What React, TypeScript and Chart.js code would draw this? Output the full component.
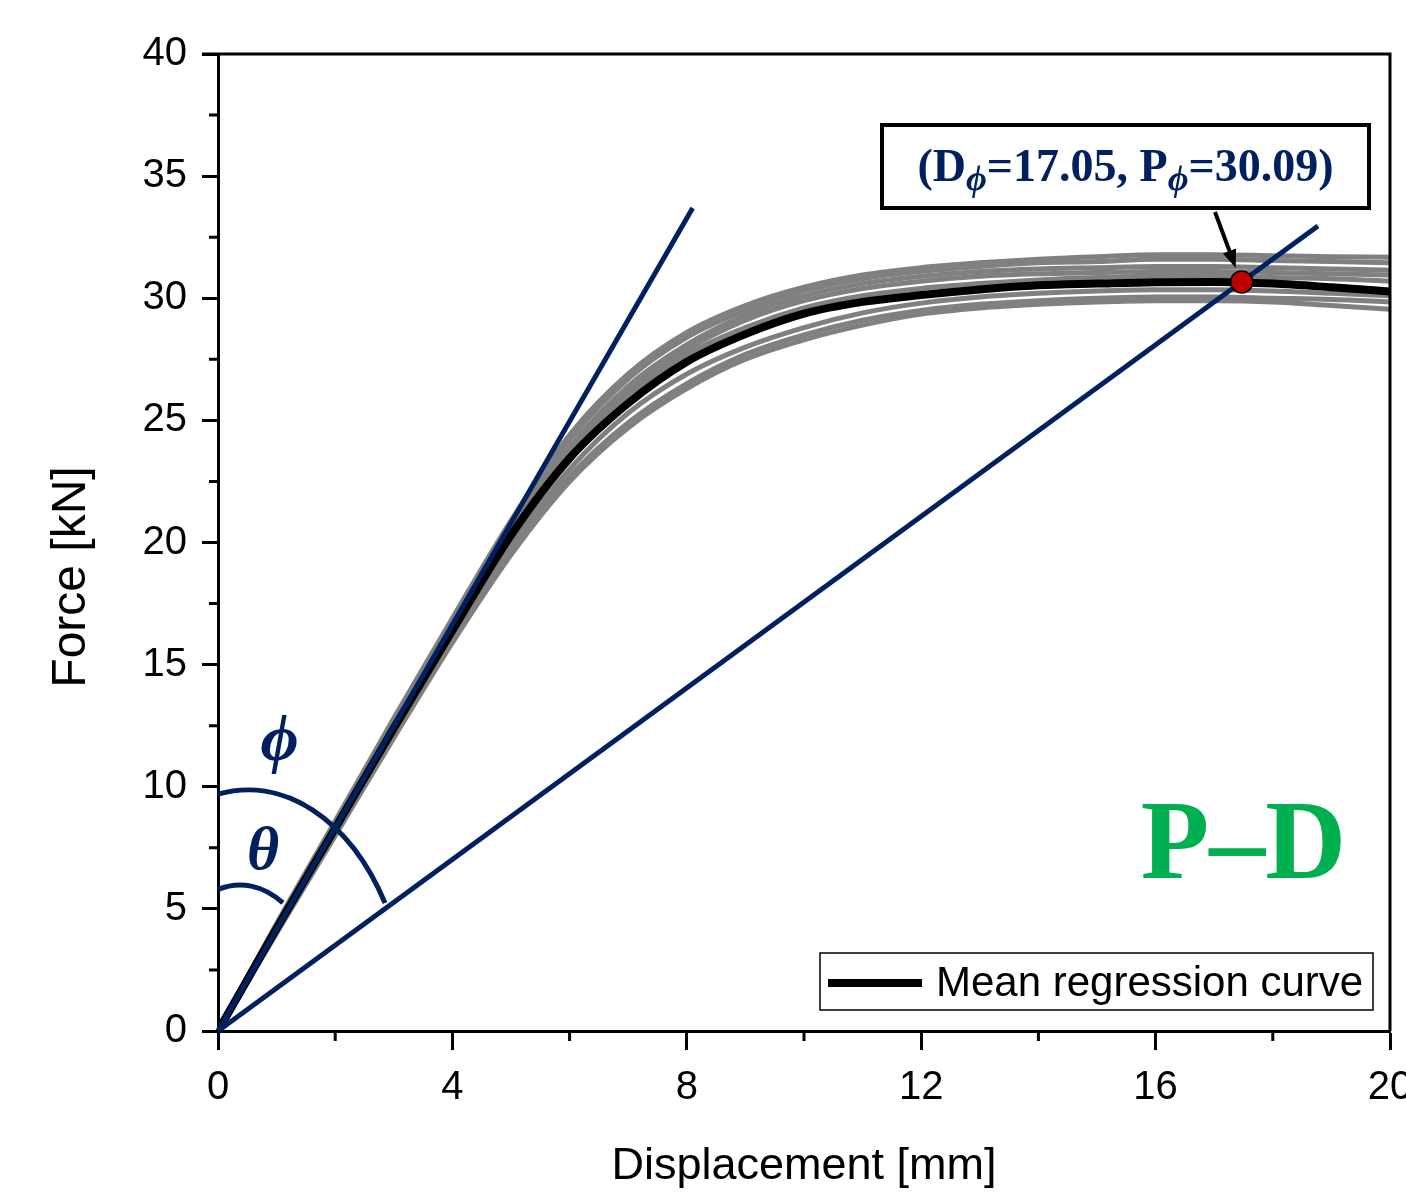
import React, { useEffect, useRef } from 'react';
import { Chart, registerables } from 'chart.js';

Chart.register(...registerables);

// ---------- data ----------
const xGrid = [0, 0.5, 1, 2, 3, 4, 5, 6, 7, 8, 9, 10, 11, 12, 13, 14, 15, 16, 17, 18, 19, 20];

const meanCurve = [0, 2.1, 4.2, 8.3, 12.4, 16.4, 20.3, 23.45, 25.7, 27.4, 28.53, 29.37, 29.85, 30.13, 30.36, 30.53, 30.6, 30.66, 30.67, 30.6, 30.45, 30.28];

const gray1 = [0, 2.2, 4.4, 8.6, 12.8, 16.9, 20.9, 24.4, 26.9, 28.6, 29.7, 30.45, 30.95, 31.25, 31.45, 31.6, 31.7, 31.78, 31.78, 31.74, 31.7, 31.68];
const gray2 = [0, 2.2, 4.3, 8.5, 12.7, 16.8, 20.8, 24.2, 26.7, 28.4, 29.5, 30.3, 30.8, 31.1, 31.3, 31.45, 31.5, 31.6, 31.6, 31.55, 31.5, 31.45];
const gray3 = [0, 2.1, 4.3, 8.4, 12.6, 16.7, 20.6, 23.9, 26.4, 28.1, 29.3, 30.1, 30.6, 30.9, 31.1, 31.2, 31.25, 31.3, 31.3, 31.25, 31.2, 31.15];
const gray4 = [0, 2.1, 4.2, 8.4, 12.5, 16.6, 20.5, 23.8, 26.2, 27.9, 29.1, 29.9, 30.4, 30.7, 30.9, 31.0, 31.05, 31.1, 31.1, 31.05, 31.0, 30.95];
const gray5 = [0, 2.1, 4.2, 8.3, 12.4, 16.5, 20.4, 23.6, 26.0, 27.7, 28.8, 29.6, 30.1, 30.4, 30.6, 30.75, 30.85, 30.9, 30.9, 30.85, 30.8, 30.7];
const gray6 = [0, 2.1, 4.1, 8.2, 12.3, 16.2, 19.9, 23.0, 25.3, 26.9, 28.0, 28.8, 29.4, 29.8, 30.05, 30.2, 30.3, 30.35, 30.35, 30.3, 30.2, 30.1];
const gray7 = [0, 2.0, 4.1, 8.1, 12.2, 16.1, 19.7, 22.7, 24.9, 26.5, 27.7, 28.5, 29.1, 29.5, 29.75, 29.9, 30.0, 30.05, 30.05, 30.0, 29.95, 29.85];
const gray8 = [0, 2.0, 4.0, 8.0, 12.0, 15.9, 19.5, 22.5, 24.7, 26.3, 27.5, 28.3, 28.9, 29.35, 29.6, 29.75, 29.85, 29.9, 29.9, 29.85, 29.7, 29.55];
const grayCurves = [gray1, gray2, gray3, gray4, gray5, gray6, gray7, gray8];

const tangentX = [0, 8.1];
const tangentY = [0, 33.7];
const secantX = [0, 18.77];
const secantY = [0, 32.96];
const markX = [17.47];
const markY = [30.67];

const xMajorTicks = [0, 4, 8, 12, 16, 20];
const yMajorTicks = [0, 5, 10, 15, 20, 25, 30, 35, 40];

const xTitle = 'Displacement [mm]';
const yTitle = 'Force [kN]';
const legendLabel = 'Mean regression curve';
const panelLabel = 'P\u2013D';
const calloutParts: [string, boolean][] = [
  ['(D', false],
  ['\u03D5', true],
  ['=17.05, P', false],
  ['\u03D5', true],
  ['=30.09)', false],
];

// ---------- style ----------
const NAVY = '#002060';
const GREEN = '#00b050';
const SANS = '"Liberation Sans", Arial, sans-serif';
const SERIF = '"Liberation Serif", "Times New Roman", serif';

const pts = (xs: number[], ys: number[]) => xs.map((x, i) => ({ x, y: ys[i] }));

const decorPlugin = {
  id: 'decor',
  afterDraw(chart: any) {
    const { ctx, chartArea: a, scales } = chart;
    const x = scales.x;
    const y = scales.y;
    ctx.save();

    // frame top & right
    ctx.strokeStyle = '#000';
    ctx.lineWidth = 3;
    ctx.beginPath();
    ctx.moveTo(a.left - 16, a.top);
    ctx.lineTo(a.right, a.top);
    ctx.lineTo(a.right, a.bottom);
    ctx.stroke();

    // minor ticks
    ctx.beginPath();
    y.ticks.forEach((t: any) => {
      if (!yMajorTicks.includes(t.value)) {
        const py = y.getPixelForValue(t.value);
        ctx.moveTo(a.left, py);
        ctx.lineTo(a.left - 9, py);
      }
    });
    x.ticks.forEach((t: any) => {
      if (!xMajorTicks.includes(t.value)) {
        const px = x.getPixelForValue(t.value);
        ctx.moveTo(px, a.bottom);
        ctx.lineTo(px, a.bottom + 10);
      }
    });
    ctx.stroke();

    // angle arcs
    const cy = y.getPixelForValue(0);
    ctx.strokeStyle = NAVY;
    ctx.lineWidth = 5;
    {
      const cx = x.getPixelForValue(0.512);
      const rx = x.getPixelForValue(0.512 + 2.76) - cx;
      const ry = cy - y.getPixelForValue(9.87);
      ctx.beginPath();
      ctx.ellipse(cx, cy, rx, ry, 0, -1.758, -0.56, false);
      ctx.stroke();
    }
    {
      const cx = x.getPixelForValue(0.375);
      const rx = x.getPixelForValue(0.375 + 1.527) - cx;
      const ry = cy - y.getPixelForValue(5.98);
      ctx.beginPath();
      ctx.ellipse(cx, cy, rx, ry, 0, -1.817, -1.07, false);
      ctx.stroke();
    }

    // angle symbols
    ctx.fillStyle = NAVY;
    ctx.textAlign = 'center';
    ctx.textBaseline = 'middle';
    ctx.font = `bold italic 66px ${SERIF}`;
    ctx.fillText('\u03D5', x.getPixelForValue(1.05), y.getPixelForValue(11.8));
    ctx.font = `bold italic 62px ${SERIF}`;
    ctx.fillText('\u03B8', x.getPixelForValue(0.77), y.getPixelForValue(7.3));

    // panel label
    ctx.fillStyle = GREEN;
    ctx.font = `bold 112px ${SERIF}`;
    ctx.textBaseline = 'alphabetic';
    ctx.fillText(panelLabel, x.getPixelForValue(17.5), y.getPixelForValue(6.25));

    // callout box
    const bx1 = 882, by1 = 125, bx2 = 1369, by2 = 208;
    ctx.fillStyle = '#fff';
    ctx.fillRect(bx1, by1, bx2 - bx1, by2 - by1);
    ctx.strokeStyle = '#000';
    ctx.lineWidth = 4;
    ctx.strokeRect(bx1, by1, bx2 - bx1, by2 - by1);
    const mainFont = `bold 46px ${SERIF}`;
    const subFont = `bold italic 36px ${SERIF}`;
    let total = 0;
    calloutParts.forEach(([s, sub]) => {
      ctx.font = sub ? subFont : mainFont;
      total += ctx.measureText(s).width;
    });
    let tx = (bx1 + bx2) / 2 - total / 2;
    const base = 181;
    ctx.fillStyle = NAVY;
    ctx.textAlign = 'left';
    calloutParts.forEach(([s, sub]) => {
      ctx.font = sub ? subFont : mainFont;
      ctx.fillText(s, tx, sub ? base + 9 : base);
      tx += ctx.measureText(s).width;
    });

    // arrow
    const ax1 = 1215, ay1 = 212;
    const ax2 = x.getPixelForValue(markX[0]) - 6, ay2 = y.getPixelForValue(markY[0]) - 14;
    const ang = Math.atan2(ay2 - ay1, ax2 - ax1);
    ctx.strokeStyle = '#000';
    ctx.fillStyle = '#000';
    ctx.lineWidth = 4;
    ctx.beginPath();
    ctx.moveTo(ax1, ay1);
    ctx.lineTo(ax2 - 12 * Math.cos(ang), ay2 - 12 * Math.sin(ang));
    ctx.stroke();
    ctx.beginPath();
    ctx.moveTo(ax2, ay2);
    ctx.lineTo(ax2 - 18 * Math.cos(ang) + 7 * Math.sin(ang), ay2 - 18 * Math.sin(ang) - 7 * Math.cos(ang));
    ctx.lineTo(ax2 - 18 * Math.cos(ang) - 7 * Math.sin(ang), ay2 - 18 * Math.sin(ang) + 7 * Math.cos(ang));
    ctx.closePath();
    ctx.fill();

    // legend
    const lx1 = 820, ly1 = 953, lx2 = 1373, ly2 = 1010;
    ctx.fillStyle = '#fff';
    ctx.fillRect(lx1, ly1, lx2 - lx1, ly2 - ly1);
    ctx.strokeStyle = '#000';
    ctx.lineWidth = 1.5;
    ctx.strokeRect(lx1, ly1, lx2 - lx1, ly2 - ly1);
    ctx.lineWidth = 8;
    ctx.beginPath();
    ctx.moveTo(828, 983);
    ctx.lineTo(922, 983);
    ctx.stroke();
    ctx.fillStyle = '#000';
    ctx.font = `42px ${SANS}`;
    ctx.textBaseline = 'middle';
    ctx.fillText(legendLabel, 936, 984);

    // axis titles
    ctx.textAlign = 'center';
    ctx.font = `45px ${SANS}`;
    ctx.fillText(xTitle, (a.left + a.right) / 2, 1167);
    ctx.save();
    ctx.translate(72, 577);
    ctx.rotate(-Math.PI / 2);
    ctx.font = `48px ${SANS}`;
    ctx.fillText(yTitle, 0, 0);
    ctx.restore();

    ctx.restore();
  },
};

export default function App() {
  const ref = useRef<HTMLCanvasElement>(null);

  useEffect(() => {
    if (!ref.current) return;
    const datasets: any[] = [];
    grayCurves.forEach((g, i) => {
      datasets.push({
        label: 'Specimen ' + (i + 1),
        data: pts(xGrid, g),
        borderColor: '#808080',
        borderWidth: 5,
        pointRadius: 0,
        cubicInterpolationMode: 'monotone',
        order: 4,
      });
    });
    datasets.push({
      label: legendLabel,
      data: pts(xGrid, meanCurve),
      borderColor: '#000',
      borderWidth: 8,
      pointRadius: 0,
      cubicInterpolationMode: 'monotone',
      order: 3,
    });
    datasets.push({
      label: 'Initial stiffness',
      data: pts(tangentX, tangentY),
      borderColor: NAVY,
      borderWidth: 5,
      pointRadius: 0,
      clip: false,
      order: 2,
    });
    datasets.push({
      label: 'Secant',
      data: pts(secantX, secantY),
      borderColor: NAVY,
      borderWidth: 5,
      pointRadius: 0,
      clip: false,
      order: 2,
    });
    datasets.push({
      label: 'Point',
      data: pts(markX, markY),
      showLine: false,
      pointRadius: 11,
      pointBackgroundColor: '#c00000',
      pointBorderColor: '#000',
      pointBorderWidth: 1.5,
      order: 1,
    });

    const chart = new Chart(ref.current, {
      type: 'line',
      data: { datasets },
      plugins: [decorPlugin],
      options: {
        responsive: false,
        animation: false,
        devicePixelRatio: 1,
        layout: { padding: { top: 54, right: 16, left: 0, bottom: 0 } },
        plugins: { legend: { display: false }, tooltip: { enabled: false } },
        scales: {
          x: {
            type: 'linear',
            min: 0,
            max: 20,
            afterFit: (s: any) => {
              s.height = 166;
              s.paddingLeft = 0;
              s.paddingRight = 0;
            },
            ticks: {
              stepSize: 2,
              autoSkip: false,
              maxRotation: 0,
              padding: 14,
              color: '#000',
              font: { family: SANS, size: 40 },
              callback: (v: any) => (xMajorTicks.includes(v) ? String(v) : ''),
            },
            grid: {
              drawOnChartArea: false,
              drawTicks: true,
              tickLength: 19,
              tickWidth: 3,
              tickColor: (c: any) => (xMajorTicks.includes(c.tick?.value) ? '#000' : 'rgba(0,0,0,0)'),
            },
            border: { display: true, color: '#000', width: 3 },
          },
          y: {
            type: 'linear',
            min: 0,
            max: 40,
            afterFit: (s: any) => {
              s.width = 218;
              s.paddingTop = 0;
              s.paddingBottom = 0;
            },
            ticks: {
              stepSize: 2.5,
              autoSkip: false,
              padding: 15,
              color: '#000',
              font: { family: SANS, size: 40 },
              callback: (v: any) => (yMajorTicks.includes(v) ? String(v) : ''),
            },
            grid: {
              drawOnChartArea: false,
              drawTicks: true,
              tickLength: 16,
              tickWidth: 3,
              tickColor: (c: any) => (yMajorTicks.includes(c.tick?.value) ? '#000' : 'rgba(0,0,0,0)'),
            },
            border: { display: true, color: '#000', width: 3 },
          },
        },
      },
    });
    return () => chart.destroy();
  }, []);

  return (
    <div style={{ position: 'absolute', left: 0, top: 0, width: 1406, height: 1197, background: '#fff' }}>
      <canvas ref={ref} width={1406} height={1197} style={{ display: 'block' }} />
    </div>
  );
}
